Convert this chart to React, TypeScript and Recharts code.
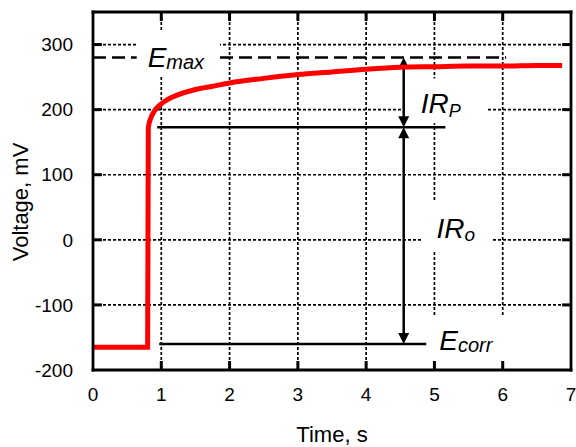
import React from 'react';
import {
  ComposedChart,
  Line,
  XAxis,
  YAxis,
  CartesianGrid,
  ReferenceLine,
  ReferenceArea,
  ReferenceDot,
  Label,
} from 'recharts';

// ---- data ----
const timeS = [0, 0.8, 0.81, 0.85, 0.9, 1.0, 1.1, 1.25, 1.5, 1.75, 2.0, 2.5, 3.0, 3.5, 4.0, 4.5, 5.0, 5.5, 6.0, 6.5, 6.87];
const voltageMV = [-165, -165, 172, 188, 198, 209, 216, 223, 231, 236, 241, 248, 254, 258, 262, 265, 266, 267, 267, 268, 268];

const xTicks = [0, 1, 2, 3, 4, 5, 6, 7];
const yTicks = [-200, -100, 0, 100, 200, 300];
const xInnerTicks = [1, 2, 3, 4, 5, 6];
const yInnerTicks = [-100, 0, 100, 200, 300];

const X_MIN = 0;
const X_MAX = 7;
const Y_MIN = -200;
const Y_MAX = 350;
// inward tick length in data units (~9 px)
const TICK_DX = 0.13;
const TICK_DY = 13.8;

// annotation levels (mV) and positions (s)
const E_MAX = 280;
const E_STEP = 173;
const E_CORR = -160;
const ARROW_T = 4.55;
const emaxSegments = [
  [0, 0.64],
  [1.86, 6.05],
];
const stepLine = [0.94, 5.16];
const corrLine = [0.97, 4.88];
// white masks behind labels (data coords)
const masks = [
  { x1: 0.64, x2: 1.86, y1: 251, y2: 321 },
  { x1: 4.57, x2: 5.76, y1: 179, y2: 248 },
  { x1: 4.82, x2: 5.83, y1: -18, y2: 61 },
  { x1: 4.93, x2: 6.1, y1: -196, y2: -116 },
];
const labels = [
  { t: 0.8, v: 265, main: 'E', sub: 'max', subSize: 20, dy: 2 },
  { t: 4.8, v: 194.5, main: 'IR', sub: 'P', subSize: 18, dy: 4 },
  { t: 5.03, v: 3, main: 'IR', sub: 'o', subSize: 19, dy: 3 },
  { t: 5.07, v: -170, main: 'E', sub: 'corr', subSize: 20, dy: 2 },
];

const data = timeS.map((t, i) => ({ t, v: voltageMV[i] }));

const FONT = '"Liberation Sans", Arial, Helvetica, sans-serif';

const ArrowShape = (props: any) => {
  const { x1, y1, x2, y2 } = props;
  const top = Math.min(y1, y2);
  const bot = Math.max(y1, y2);
  const x = x1;
  const h = 11;
  const w = 5.5;
  return (
    <g>
      <line x1={x} y1={top + h - 1} x2={x2} y2={bot - h + 1} stroke="#000" strokeWidth={2.5} />
      <polygon points={`${x},${top} ${x - w},${top + h} ${x + w},${top + h}`} fill="#000" />
      <polygon points={`${x},${bot} ${x - w},${bot - h} ${x + w},${bot - h}`} fill="#000" />
    </g>
  );
};

const TickShape = (props: any) => {
  const { x1, y1, x2, y2 } = props;
  return <line x1={x1} y1={y1} x2={x2} y2={y2} stroke="#000" strokeWidth={3} />;
};

const makeLabelShape = (main: string, sub: string, subSize: number, dy: number) => (p: any) => (
  <text x={p.cx} y={p.cy} fontFamily={FONT} fontStyle="italic" fontSize={28} fill="#000">
    {main}
    <tspan fontSize={subSize} dy={dy}>
      {sub}
    </tspan>
  </text>
);

const axisLineStyle = { stroke: '#000', strokeWidth: 2.8, strokeLinecap: 'square' as const };
const tickStyle = { fontSize: 19, fill: '#000', fontFamily: FONT };

const tickSegments: { a: { x: number; y: number }; b: { x: number; y: number } }[] = [
  ...xInnerTicks.map((x) => ({ a: { x, y: Y_MIN }, b: { x, y: Y_MIN + TICK_DY } })),
  ...xInnerTicks.map((x) => ({ a: { x, y: Y_MAX }, b: { x, y: Y_MAX - TICK_DY } })),
  ...yInnerTicks.map((y) => ({ a: { x: X_MIN, y }, b: { x: X_MIN + TICK_DX, y } })),
  ...yInnerTicks.map((y) => ({ a: { x: X_MAX, y }, b: { x: X_MAX - TICK_DX, y } })),
];

export default function App() {
  return (
    <div style={{ width: 576, height: 447, background: '#fff' }}>
      <style>{`body{margin:0;background:#fff}`}</style>
      <ComposedChart
        width={576}
        height={447}
        data={data}
        margin={{ top: 11, right: 4, bottom: 0, left: 0 }}
      >
        <CartesianGrid stroke="#000" strokeWidth={1.7} strokeDasharray="3 2" />
        {emaxSegments.map((s, i) => (
          <ReferenceLine
            key={'em' + i}
            segment={[
              { x: s[0], y: E_MAX },
              { x: s[1], y: E_MAX },
            ]}
            stroke="#000"
            strokeWidth={2.4}
            strokeDasharray="13 6"
          />
        ))}
        {masks.map((m, i) => (
          <ReferenceArea
            key={'m' + i}
            x1={m.x1}
            x2={m.x2}
            y1={m.y1}
            y2={m.y2}
            fill="#fff"
            fillOpacity={1}
            stroke="none"
          />
        ))}
        <XAxis
          dataKey="t"
          type="number"
          domain={[X_MIN, X_MAX]}
          ticks={xTicks}
          height={77}
          tickSize={0}
          tickMargin={18}
          axisLine={axisLineStyle}
          tickLine={false}
          tick={tickStyle}
          interval={0}
        >
          <Label
            content={(p: any) => {
              const vb = p.viewBox || {};
              return (
                <text
                  x={vb.x + vb.width / 2}
                  y={vb.y + 72}
                  textAnchor="middle"
                  fontFamily={FONT}
                  fontSize={22}
                  fill="#000"
                >
                  Time, s
                </text>
              );
            }}
          />
        </XAxis>
        <XAxis
          xAxisId="top"
          orientation="top"
          type="number"
          dataKey="t"
          domain={[X_MIN, X_MAX]}
          ticks={xInnerTicks}
          height={1}
          axisLine={axisLineStyle}
          tickLine={false}
          tick={false}
          interval={0}
        />
        <YAxis
          type="number"
          domain={[Y_MIN, Y_MAX]}
          ticks={yTicks}
          width={93}
          tickSize={0}
          tickMargin={20}
          axisLine={axisLineStyle}
          tickLine={false}
          tick={tickStyle}
          interval={0}
          allowDataOverflow
        >
          <Label
            content={(p: any) => {
              const vb = p.viewBox || {};
              const cy = vb.y + vb.height / 2 + 11;
              return (
                <text
                  transform={`translate(${vb.x + 20}, ${cy}) rotate(-90)`}
                  textAnchor="middle"
                  dominantBaseline="central"
                  fontFamily={FONT}
                  fontSize={22}
                  fill="#000"
                >
                  Voltage, mV
                </text>
              );
            }}
          />
        </YAxis>
        <YAxis
          yAxisId="right"
          orientation="right"
          type="number"
          domain={[Y_MIN, Y_MAX]}
          ticks={yInnerTicks}
          width={1}
          axisLine={axisLineStyle}
          tickLine={false}
          tick={false}
          interval={0}
          allowDataOverflow
        />
        {tickSegments.map((s, i) => (
          <ReferenceLine
            key={'tk' + i}
            segment={[s.a, s.b]}
            ifOverflow="visible"
            shape={TickShape}
          />
        ))}
        <ReferenceLine
          segment={[
            { x: stepLine[0], y: E_STEP },
            { x: stepLine[1], y: E_STEP },
          ]}
          stroke="#000"
          strokeWidth={2.5}
        />
        <ReferenceLine
          segment={[
            { x: corrLine[0], y: E_CORR },
            { x: corrLine[1], y: E_CORR },
          ]}
          stroke="#000"
          strokeWidth={2.5}
        />
        <ReferenceLine
          segment={[
            { x: ARROW_T, y: E_MAX },
            { x: ARROW_T, y: E_STEP },
          ]}
          shape={ArrowShape}
        />
        <ReferenceLine
          segment={[
            { x: ARROW_T, y: E_STEP },
            { x: ARROW_T, y: E_CORR },
          ]}
          shape={ArrowShape}
        />
        <Line
          type="monotone"
          dataKey="v"
          stroke="#ff0000"
          strokeWidth={5}
          dot={false}
          activeDot={false}
          isAnimationActive={false}
        />
        {labels.map((l, i) => (
          <ReferenceDot
            key={'l' + i}
            x={l.t}
            y={l.v}
            r={0}
            shape={makeLabelShape(l.main, l.sub, l.subSize, l.dy)}
          />
        ))}
      </ComposedChart>
    </div>
  );
}
